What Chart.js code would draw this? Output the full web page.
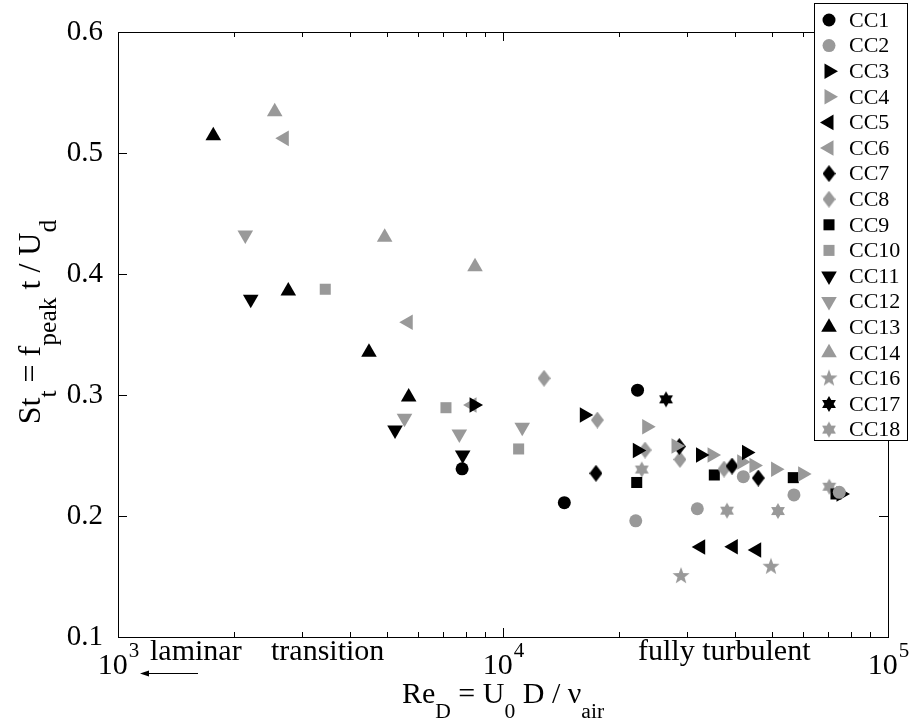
<!doctype html>
<html lang="en">
<head>
<meta charset="utf-8">
<title>St_t vs Re_D</title>
<style>
  html, body { margin: 0; padding: 0; background: #fff; }
  #wrap { width: 911px; height: 726px; }
</style>
</head>
<body>
<div id="wrap"><canvas id="myChart" width="911" height="726"></canvas></div>
<script src="https://cdn.jsdelivr.net/npm/chart.js@4.4.1/dist/chart.umd.min.js"></script>
<script>
// ---- data (Re_D, St_t) per case ----
const seriesNames = ['CC1', 'CC2', 'CC3', 'CC4', 'CC5', 'CC6', 'CC7', 'CC8', 'CC9',
  'CC10', 'CC11', 'CC12', 'CC13', 'CC14', 'CC16', 'CC17', 'CC18'];

const re_CC1 = [7830, 14430, 22360];
const st_CC1 = [0.239, 0.211, 0.304];
const re_CC2 = [22120, 31970, 42090, 56980, 74730];
const st_CC2 = [0.196, 0.206, 0.2325, 0.2174, 0.2196];
const re_CC3 = [8410, 16260, 22330, 32580, 42900, 75490];
const st_CC3 = [0.2917, 0.2835, 0.2541, 0.2504, 0.2525, 0.2182];
const re_CC4 = [23620, 28140, 34910, 41690, 44860, 51040, 60020];
const st_CC4 = [0.2738, 0.2579, 0.2504, 0.2446, 0.2417, 0.2386, 0.2347];
const re_CC5 = [32620, 39650, 45600];
const st_CC5 = [0.1744, 0.1746, 0.1719];
const re_CC6 = [2704, 5675, 8310];
const st_CC6 = [0.5121, 0.3601, 0.2917];
const re_CC7 = [17440, 28700, 39340, 46030];
const st_CC7 = [0.2353, 0.2574, 0.2413, 0.2314];
const re_CC8 = [12780, 17580, 23380, 28820, 37500];
const st_CC8 = [0.3138, 0.2793, 0.2545, 0.2467, 0.2388];
const re_CC9 = [22250, 35390, 56750, 73270];
const st_CC9 = [0.2277, 0.2339, 0.2317, 0.2182];
const re_CC10 = [3454, 7110, 10980];
const st_CC10 = [0.3874, 0.2895, 0.2554];
const re_CC11 = [2212, 5243, 7858];
const st_CC11 = [0.3791, 0.2711, 0.2504];
const re_CC12 = [2141, 5548, 7701, 11220];
const st_CC12 = [0.4322, 0.2807, 0.2678, 0.2733];
const re_CC13 = [1768, 2769, 4486, 5689];
const st_CC13 = [0.5143, 0.386, 0.3353, 0.2983];
const re_CC14 = [2553, 4928, 8459];
const st_CC14 = [0.5341, 0.4303, 0.406];
const re_CC16 = [29000, 49670];
const st_CC16 = [0.1504, 0.1581];
const re_CC17 = [26510];
const st_CC17 = [0.2964];
const re_CC18 = [22930, 38180, 51790, 70390];
const st_CC18 = [0.2384, 0.2044, 0.2041, 0.2242];

const reSets = [re_CC1, re_CC2, re_CC3, re_CC4, re_CC5, re_CC6, re_CC7, re_CC8, re_CC9,
  re_CC10, re_CC11, re_CC12, re_CC13, re_CC14, re_CC16, re_CC17, re_CC18];
const stSets = [st_CC1, st_CC2, st_CC3, st_CC4, st_CC5, st_CC6, st_CC7, st_CC8, st_CC9,
  st_CC10, st_CC11, st_CC12, st_CC13, st_CC14, st_CC16, st_CC17, st_CC18];

const xTickValues = [1e3, 1e4, 1e5];
const xTickExp = ['3', '4', '5'];
const yTickValues = [0.1, 0.2, 0.3, 0.4, 0.5, 0.6];

// ---- marker look ----
const BLACK = '#000000';
const GRAY = '#999999';
const FONT = '"Liberation Serif", "Times New Roman", serif';

function shapeCanvas(w, h, draw) {
    let c = document.createElement('canvas');
    c.width = w;
    c.height = h;
    draw(c.getContext('2d'), w, h);
    return c;
}
function starImg(n, ro, ri, color) {
    let s = Math.ceil(ro * 2) + 2;
    return shapeCanvas(s, s, (g) => {
        g.fillStyle = color;
        g.beginPath();
        for (let i = 0; i < 2 * n; i++) {
            let r = i % 2 ? ri : ro;
            let a = -Math.PI / 2 + i * Math.PI / n;
            g.lineTo(s / 2 + r * Math.cos(a), s / 2 + r * Math.sin(a));
        }
        g.closePath();
        g.fill();
    });
}
function diamondImg(w, h, color) {
    return shapeCanvas(w, h, (g) => {
        g.fillStyle = color;
        g.beginPath();
        g.moveTo(w / 2, 0);
        g.lineTo(w, h / 2);
        g.lineTo(w / 2, h);
        g.lineTo(0, h / 2);
        g.closePath();
        g.fill();
    });
}

// [color, pointStyle, rotation, radius]
const markerStyles = [
    [BLACK, 'circle', 0, 6.5],
    [GRAY, 'circle', 0, 6.5],
    [BLACK, 'triangle', 90, 9],
    [GRAY, 'triangle', 90, 9],
    [BLACK, 'triangle', -90, 9],
    [GRAY, 'triangle', -90, 9],
    [BLACK, diamondImg(13, 17, BLACK), 0, 8],
    [GRAY, diamondImg(13, 17, GRAY), 0, 8],
    [BLACK, 'rect', 0, 7.8],
    [GRAY, 'rect', 0, 7.8],
    [BLACK, 'triangle', 180, 9],
    [GRAY, 'triangle', 180, 9],
    [BLACK, 'triangle', 0, 9],
    [GRAY, 'triangle', 0, 9],
    [GRAY, starImg(5, 9, 3.7, GRAY), 0, 9],
    [BLACK, starImg(6, 8, 4.6, BLACK), 0, 8],
    [GRAY, starImg(6, 8, 4.6, GRAY), 0, 8]
];

// ---- text helper for sub/superscripts ----
// parts: [text, shift] shift 0 normal, -1 subscript
function richWidth(ctx, parts, size, sub) {
    let w = 0;
    parts.forEach(p => {
        ctx.font = (p[1] ? size * sub : size) + 'px ' + FONT;
        w += ctx.measureText(p[0]).width;
    });
    return w;
}
function drawRich(ctx, parts, cx, baseY, size, sub) {
    let x = cx - richWidth(ctx, parts, size, sub) / 2;
    ctx.textAlign = 'left';
    ctx.textBaseline = 'alphabetic';
    parts.forEach(p => {
        ctx.font = (p[1] ? size * sub : size) + 'px ' + FONT;
        let dy = p[1] < 0 ? size * 0.5 : 0;
        ctx.fillText(p[0], x, baseY + dy);
        x += ctx.measureText(p[0]).width;
    });
}

const decorPlugin = {
    id: 'decor',
    afterDraw(chart) {
        const ctx = chart.ctx;
        const xs = chart.scales.x, ys = chart.scales.y;
        const { left, right, top, bottom } = chart.chartArea;
        ctx.save();
        ctx.strokeStyle = '#000';
        ctx.fillStyle = '#000';
        ctx.lineWidth = 1;

        // frame
        ctx.strokeRect(left + 0.5, top + 0.5, right - left, bottom - top);

        // inward ticks
        ctx.beginPath();
        for (let d = 3; d < 5; d++) {
            for (let k = 1; k <= 9; k++) {
                let px = Math.round(xs.getPixelForValue(k * Math.pow(10, d))) + 0.5;
                let len = k === 1 ? 9 : 5;
                ctx.moveTo(px, bottom);
                ctx.lineTo(px, bottom - len);
                ctx.moveTo(px, top);
                ctx.lineTo(px, top + len);
            }
        }
        yTickValues.forEach(v => {
            let py = Math.round(ys.getPixelForValue(v)) + 0.5;
            ctx.moveTo(left, py);
            ctx.lineTo(left + 9, py);
            ctx.moveTo(right, py);
            ctx.lineTo(right - 9, py);
        });
        ctx.stroke();

        // x tick labels 10^n
        xTickValues.forEach((v, i) => {
            let px = xs.getPixelForValue(v);
            ctx.font = '30px ' + FONT;
            let w1 = ctx.measureText('10').width;
            ctx.font = '21px ' + FONT;
            let w2 = ctx.measureText(xTickExp[i]).width;
            let x0 = px - (w1 + w2) / 2;
            ctx.textAlign = 'left';
            ctx.textBaseline = 'alphabetic';
            ctx.font = '30px ' + FONT;
            ctx.fillText('10', x0, 674);
            ctx.font = '21px ' + FONT;
            ctx.fillText(xTickExp[i], x0 + w1 + 1, 657);
        });

        // regime annotations
        ctx.font = '30px ' + FONT;
        ctx.textAlign = 'left';
        ctx.fillText('laminar', 150, 660);
        ctx.fillText('transition', 271, 660);
        ctx.fillText('fully turbulent', 638, 660);

        // arrow towards laminar
        ctx.beginPath();
        ctx.moveTo(198, 673.5);
        ctx.lineTo(146, 673.5);
        ctx.stroke();
        ctx.beginPath();
        ctx.moveTo(140, 673.5);
        ctx.lineTo(149, 670.5);
        ctx.lineTo(149, 676.5);
        ctx.closePath();
        ctx.fill();

        // axis titles
        drawRich(ctx, [['Re', 0], ['D', -1], [' = U', 0], ['0', -1], [' D / \u03bd', 0], ['air', -1]],
            (left + right) / 2, 703, 30, 0.72);
        ctx.save();
        ctx.translate(40, 322);
        ctx.rotate(-Math.PI / 2);
        drawRich(ctx, [['St', 0], ['t', -1], [' = f', 0], ['peak', -1], [' t / U', 0], ['d', -1]], 0, 0, 32, 0.8);
        ctx.restore();

        // legend box
        const bx = 814, by = 3, bw = 93, bh = 437;
        ctx.fillStyle = '#fff';
        ctx.fillRect(bx, by, bw, bh);
        ctx.strokeStyle = '#000';
        ctx.strokeRect(bx + 0.5, by + 0.5, bw, bh);
        const drawPt = Chart.helpers && Chart.helpers.drawPoint;
        seriesNames.forEach((name, i) => {
            const st = markerStyles[i];
            const ry = 20 + i * 25.6;
            ctx.fillStyle = st[0];
            ctx.strokeStyle = st[0];
            if (drawPt) {
                drawPt(ctx, { pointStyle: st[1], rotation: st[2], radius: st[3], borderWidth: 0 }, 829, ry);
            }
            ctx.fillStyle = '#000';
            ctx.font = '22px ' + FONT;
            ctx.textAlign = 'left';
            ctx.textBaseline = 'middle';
            ctx.fillText(name, 849, ry + 1);
        });
        ctx.restore();
    }
};

window.onload = function () {
    const datasets = seriesNames.map((name, i) => {
        const st = markerStyles[i];
        return {
            label: name,
            data: reSets[i].map((r, j) => ({ x: r, y: stSets[i][j] })),
            showLine: false,
            backgroundColor: st[0],
            borderColor: st[0],
            borderWidth: 0,
            pointStyle: st[1],
            rotation: st[2],
            pointRadius: st[3],
            pointHoverRadius: st[3]
        };
    });

    const ctx = document.getElementById('myChart').getContext('2d');
    new Chart(ctx, {
        type: 'scatter',
        data: { datasets: datasets },
        options: {
            responsive: false,
            animation: false,
            layout: { padding: { left: 0, right: 23, top: 32, bottom: 0 } },
            plugins: { legend: { display: false }, tooltip: { enabled: false } },
            scales: {
                x: {
                    type: 'logarithmic', min: 1000, max: 100000,
                    ticks: { display: false },
                    grid: { display: false },
                    border: { display: false },
                    afterFit: s => { s.height = 89; }
                },
                y: {
                    min: 0.1, max: 0.6,
                    ticks: {
                        stepSize: 0.1, color: '#000', padding: 7,
                        font: { family: FONT, size: 29 },
                        callback: v => v.toFixed(1)
                    },
                    grid: { display: false },
                    border: { display: false },
                    afterFit: s => { s.width = 118; }
                }
            }
        },
        plugins: [decorPlugin]
    });
};
</script>
</body>
</html>
